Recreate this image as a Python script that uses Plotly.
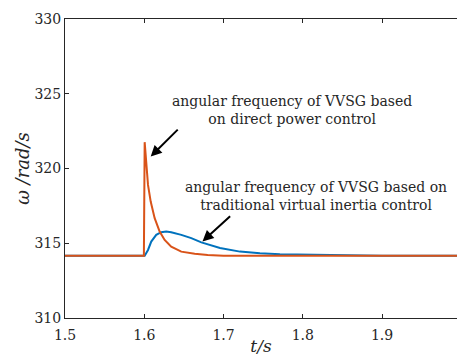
import plotly.graph_objects as go

# Time axis samples (s) and angular frequency (rad/s) for both control schemes
t_dpc = [1.5, 1.5995, 1.6005, 1.6025, 1.6047, 1.6081, 1.6131, 1.6194, 1.6257,
         1.6340, 1.6467, 1.6636, 1.68, 1.70, 1.72, 1.80, 1.90, 2.0]
w_dpc = [314.16, 314.16, 321.76, 320.02, 318.90, 317.79, 316.68, 315.78, 315.22,
         314.77, 314.44, 314.29, 314.21, 314.17, 314.16, 314.16, 314.16, 314.16]

t_vic = [1.5, 1.6005, 1.6047, 1.6088, 1.6151, 1.6214, 1.6277, 1.6340, 1.6467,
         1.6593, 1.6720, 1.6845, 1.6955, 1.7207, 1.7459, 1.7711, 1.7963, 1.85,
         1.90, 2.0]
w_vic = [314.16, 314.16, 314.55, 315.11, 315.56, 315.74, 315.78, 315.74, 315.56,
         315.34, 315.06, 314.86, 314.68, 314.44, 314.33, 314.27, 314.24, 314.18,
         314.165, 314.16]

x_ticks = [1.5, 1.6, 1.7, 1.8, 1.9]
y_ticks = [310, 315, 320, 325, 330]

label_dpc = "angular frequency of VVSG based<br>on direct power control"
label_vic = "angular frequency of VVSG based on<br>traditional virtual inertia control"

serif = "DejaVu Serif"
ink = "#262626"

fig = go.Figure()
fig.add_trace(go.Scatter(x=t_vic, y=w_vic, mode="lines",
                         line=dict(color="#0072BD", width=2)))
fig.add_trace(go.Scatter(x=t_dpc, y=w_dpc, mode="lines",
                         line=dict(color="#D95319", width=2)))

# Callouts with arrows pointing at each curve
fig.add_annotation(x=1.6081, y=320.80, ax=1.6441, ay=322.70,
                   xref="x", yref="y", axref="x", ayref="y",
                   showarrow=True, arrowhead=2, arrowsize=1.1, arrowwidth=2,
                   arrowcolor="black", text="")
fig.add_annotation(x=1.6734, y=315.12, ax=1.7102, ay=316.90,
                   xref="x", yref="y", axref="x", ayref="y",
                   showarrow=True, arrowhead=2, arrowsize=1.1, arrowwidth=2,
                   arrowcolor="black", text="")
fig.add_annotation(x=1.7869, y=323.91, xref="x", yref="y", showarrow=False,
                   text=label_dpc, font=dict(family=serif, size=14, color=ink),
                   align="center")
fig.add_annotation(x=1.8165, y=318.15, xref="x", yref="y", showarrow=False,
                   text=label_vic, font=dict(family=serif, size=14, color=ink),
                   align="center")

fig.update_layout(
    width=457, height=356,
    margin=dict(l=65, r=0, t=19, b=38),
    paper_bgcolor="white", plot_bgcolor="white",
    showlegend=False,
    font=dict(family=serif, size=14, color=ink),
)
fig.update_xaxes(range=[1.5, 1.9945], tickvals=x_ticks,
                 ticktext=[f"{v:g}" for v in x_ticks],
                 tickfont=dict(family=serif, size=14, color=ink),
                 ticklabelstandoff=4,
                 showline=True, linecolor=ink, linewidth=1, mirror="ticks",
                 ticks="inside", ticklen=4, tickcolor=ink, showgrid=False,
                 zeroline=False,
                 title=dict(text="<i>t/s</i>", standoff=0,
                            font=dict(family=serif, size=17, color=ink)))
fig.update_yaxes(range=[310, 330], tickvals=y_ticks,
                 tickfont=dict(family=serif, size=14, color=ink),
                 showline=True, linecolor=ink, linewidth=1, mirror=False,
                 ticks="inside", ticklen=4, tickcolor=ink, showgrid=False,
                 zeroline=False,
                 title=dict(text="<i>ω /rad/s</i>", standoff=0,
                            font=dict(family=serif, size=18, color=ink)))

fig.write_html("out.html")
